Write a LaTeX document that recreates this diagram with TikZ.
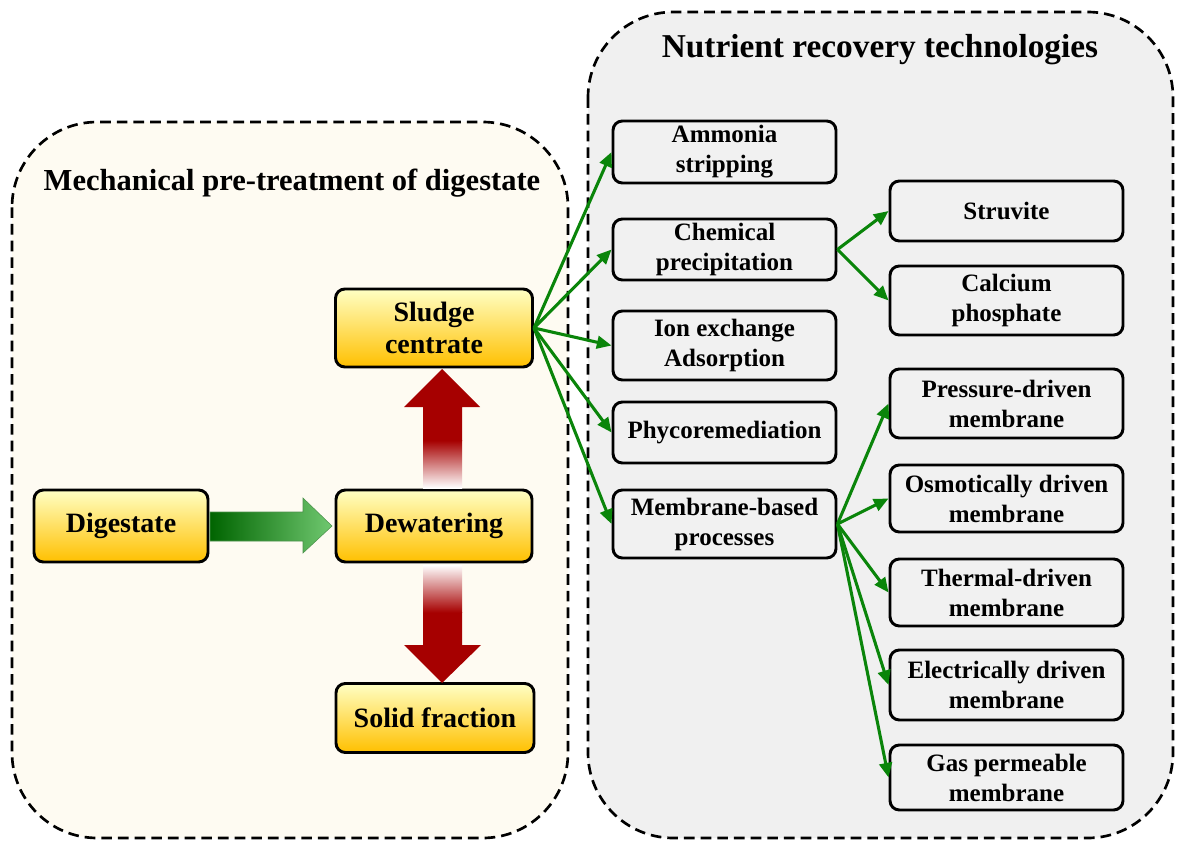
\documentclass[tikz,border=0pt]{standalone}
\usepackage{fontspec}
\setmainfont{Liberation Serif}
\usetikzlibrary{arrows.meta}
\definecolor{leftbg}{HTML}{FEFBF2}
\definecolor{rightbg}{HTML}{F0F0F0}
\definecolor{boxbg}{HTML}{F1F1F1}
\definecolor{ytop}{HTML}{FFFFC4}
\definecolor{ybot}{HTML}{FFC000}
\definecolor{lgreen}{HTML}{0A850A}
\definecolor{dred}{HTML}{A60000}
\definecolor{gdark}{HTML}{006400}
\definecolor{glight}{HTML}{70C870}
\def\pxu{0.75pt}
\begin{document}
\begin{tikzpicture}[x=0.75pt,y=-0.75pt,
  container/.style={draw=black, line width=2pt, dash pattern=on 8pt off 4.5pt, rounded corners=64pt},
  ttl/.style={font=\fontsize{22.9}{27}\selectfont\bfseries},
  ybox/.style={draw=black, line width=2.2pt, rounded corners=7pt, top color=ytop, bottom color=ybot,
    font=\fontsize{21}{24}\selectfont\bfseries, align=center, inner sep=0pt},
  gbox/.style={draw=black, line width=2.2pt, rounded corners=7pt, fill=boxbg,
    font=\fontsize{18.75}{22.5}\selectfont\bfseries, align=center, inner sep=0pt},
  gboxa/.style={gbox, minimum width=223*\pxu},
  gboxb/.style={gbox, minimum width=233*\pxu},
  garrow/.style={draw=lgreen, line width=2.3pt, -{Triangle[length=11pt,width=9.5pt]}}
]
\useasboundingbox (0,0) rectangle (1177,841);
\fill[white] (0,0) rectangle (1177,841);

% containers
\draw[container, fill=leftbg] (12,122) rectangle (568,838);
\draw[container, fill=rightbg] (588,12) rectangle (1173,838);
\node[ttl] (ltitle) at (292,183) {Mechanical pre-treatment of digestate};
\node[ttl, font=\fontsize{25}{29}\selectfont\bfseries] (rtitle) at (880,50) {Nutrient recovery technologies};

% yellow boxes
\node[ybox, minimum width=174*\pxu, minimum height=72*\pxu] (dig) at (121,526) {Digestate};
\node[ybox, minimum width=196*\pxu, minimum height=72*\pxu] (dew) at (434,526) {Dewatering};
\node[ybox, minimum width=197*\pxu, minimum height=78*\pxu] (slu) at (434,328) {Sludge\\centrate};
\node[ybox, minimum width=198*\pxu, minimum height=69*\pxu] (sol) at (435,718) {Solid fraction};

% big arrows
\shadedraw[left color=gdark, right color=glight, draw=gdark!70, line width=0.4pt]
  (210,512) -- (303,512) -- (303,498) -- (332,526) -- (303,553) -- (303,541) -- (210,541) -- cycle;
% up arrow (dewatering -> sludge centrate)
\fill[dred] (423,441) -- (423,407) -- (404,407) -- (442,369) -- (480,407) -- (462,407) -- (462,441) -- cycle;
\shade[top color=dred, bottom color=white] (423,440.5) rectangle (462,488);
% down arrow (dewatering -> solid fraction)
\fill[dred] (423,612) -- (423,645) -- (404,645) -- (442,683) -- (481,645) -- (462,645) -- (462,612) -- cycle;
\shade[top color=white, bottom color=dred] (423,565) rectangle (462,612.5);

% column 1
\node[gboxa, minimum height=62*\pxu] (amm) at (724.5,152) {Ammonia\\stripping};
\node[gboxa, minimum height=61*\pxu] (che) at (724.5,249.5) {Chemical\\precipitation};
\node[gboxa, minimum height=69*\pxu] (ion) at (724.5,345.5) {Ion exchange\\Adsorption};
\node[gboxa, minimum height=61*\pxu] (phy) at (724.5,432.5) {Phycoremediation};
\node[gboxa, minimum height=68*\pxu] (mem) at (724.5,524) {Membrane-based\\processes};

% column 2
\node[gboxb, minimum height=60*\pxu] (str) at (1006.5,211) {Struvite};
\node[gboxb, minimum height=69*\pxu] (cal) at (1006.5,300.5) {Calcium\\phosphate};
\node[gboxb, minimum height=69*\pxu] (pre) at (1006.5,403.5) {Pressure-driven\\membrane};
\node[gboxb, minimum height=67*\pxu] (osm) at (1006.5,498.5) {Osmotically driven\\membrane};
\node[gboxb, minimum height=67*\pxu] (the) at (1006.5,592.5) {Thermal-driven\\membrane};
\node[gboxb, minimum height=70*\pxu] (ele) at (1006.5,685) {Electrically driven\\membrane};
\node[gboxb, minimum height=65*\pxu] (gas) at (1006.5,777.5) {Gas permeable\\membrane};

% green connectors
\foreach \t in {amm,che,ion,phy,mem} \draw[garrow] (slu.east) -- (\t.west);
\foreach \t in {str,cal} \draw[garrow] (che.east) -- (\t.west);
\foreach \t in {pre,osm,the,ele,gas} \draw[garrow] (mem.east) -- (\t.west);
\end{tikzpicture}
\end{document}
